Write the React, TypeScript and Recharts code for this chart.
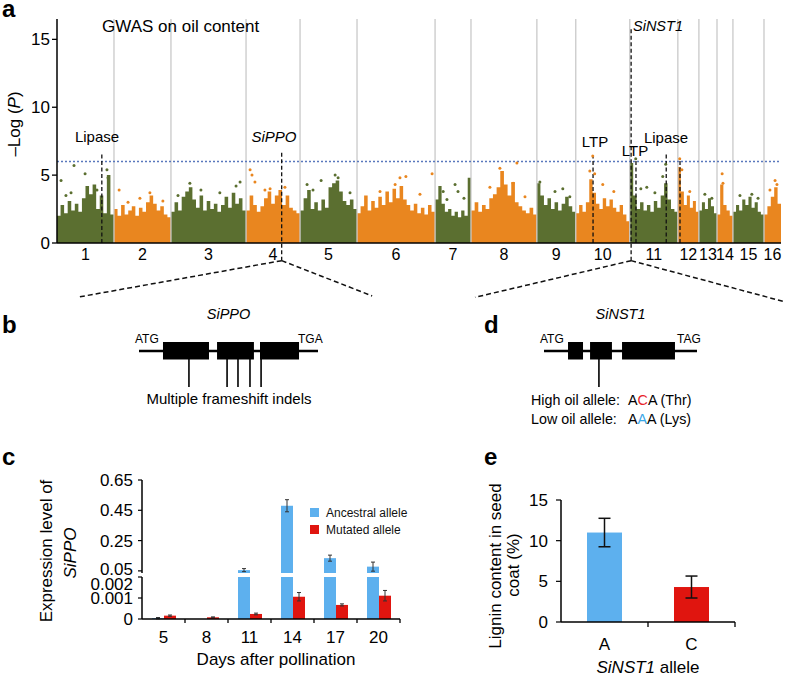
import React from 'react';
import {
  ComposedChart,
  Area,
  Scatter,
  XAxis,
  YAxis,
  ReferenceLine,
  BarChart,
  Bar,
  ErrorBar,
  Legend,
} from 'recharts';

const FONT = '"Liberation Sans", Arial, Helvetica, sans-serif';
const GREEN = '#5b6f30';
const ORANGE = '#e9861f';
const BLUE = '#5db0ee';
const RED = '#e0150f';

// ---- a: GWAS on oil content ----
const chromNames = ['1', '2', '3', '4', '5', '6', '7', '8', '9', '10', '11', '12', '13', '14', '15', '16'];
// chromosome lengths (Mb)
const chromLengths = [21.1, 21.1, 27.8, 20.0, 21.1, 28.9, 13.3, 24.4, 14.4, 20.0, 17.8, 7.8, 6.7, 5.9, 11.5, 6.3];
// upper edge of the dense dot cloud, sampled along each chromosome (-log P)
const chromEnvelope = [
  [2.0, 2.8, 2.2, 3.1, 2.4, 2.9, 2.3, 3.3, 4.2, 3.6, 4.3, 2.5, 3.5, 2.2, 5.0, 2.1],
  [2.5, 2.0, 2.8, 2.1, 2.4, 2.7, 2.0, 2.6, 2.3, 3.0, 3.5, 2.9, 2.4, 2.7, 2.1, 1.9],
  [2.3, 3.0, 2.4, 3.4, 3.8, 4.1, 3.2, 2.6, 3.5, 2.4, 3.1, 2.5, 2.9, 2.3, 2.8, 3.4, 2.6, 3.7, 2.9, 3.3, 2.4],
  [2.4, 3.5, 2.8, 2.3, 2.7, 3.3, 3.8, 2.9, 3.5, 3.9, 2.8, 3.5, 2.6, 2.4, 2.2],
  [2.4, 3.3, 3.9, 2.5, 3.0, 2.4, 3.2, 2.6, 4.1, 4.4, 4.6, 3.8, 3.1, 2.8, 3.2, 2.5],
  [2.2, 2.7, 3.5, 2.4, 3.1, 2.6, 3.4, 2.8, 3.8, 3.0, 4.0, 3.3, 4.2, 3.2, 2.8, 2.4, 2.9, 2.2, 2.6, 2.1, 2.8, 2.3],
  [3.2, 4.2, 2.9, 2.3, 2.5, 2.0, 2.3, 1.9, 2.4, 2.0, 4.8],
  [2.4, 3.0, 2.3, 2.8, 2.5, 3.3, 3.6, 4.1, 5.3, 4.3, 3.5, 4.5, 3.0, 2.7, 2.4, 2.2, 2.6, 2.1],
  [4.4, 3.5, 2.8, 3.3, 2.5, 3.0, 2.4, 2.9, 3.4, 2.7, 2.3],
  [2.2, 2.8, 2.3, 3.0, 4.7, 3.7, 2.9, 2.5, 3.3, 2.7, 3.2, 2.6, 2.3, 2.8, 2.1, 1.6],
  [5.9, 3.5, 2.5, 3.0, 2.4, 2.8, 2.3, 3.1, 2.6, 3.5, 4.4, 3.2, 2.5, 2.3],
  [5.6, 3.8, 2.8, 3.5, 2.6, 3.1, 2.3],
  [2.4, 3.0, 2.5, 3.3, 2.7, 2.2],
  [2.1, 4.3, 2.8, 2.4, 2.0],
  [2.3, 2.8, 2.4, 3.2, 2.8, 3.4, 2.6, 3.0, 2.3, 2.1],
  [2.1, 2.7, 3.4, 4.1, 2.9],
];
// isolated SNPs above the cloud: [position within chromosome (Mb), -log P]
const chromOutliers: [number, number][][] = [
  [[1.5, 4.6], [3.3, 3.5], [5.2, 3.7], [6.3, 5.7], [10.4, 5.1], [14.8, 3.9], [18.5, 5.4], [18.9, 4.8]],
  [[1.9, 3.9], [5.2, 3.0], [9.6, 3.3], [13.3, 3.7], [18.1, 3.1]],
  [[2.6, 3.5], [7.0, 4.4], [11.1, 3.9], [18.1, 3.7], [24.1, 4.2], [25.6, 4.5]],
  [[1.5, 5.4], [2.2, 5.0], [3.3, 4.5], [7.0, 3.9], [8.9, 4.0], [14.4, 4.1]],
  [[2.6, 4.3], [4.8, 3.9], [7.8, 4.6], [13.0, 5.0], [14.1, 4.8], [18.5, 3.7]],
  [[8.5, 3.8], [14.1, 4.3], [15.9, 4.8], [18.1, 4.9], [23.3, 3.6], [27.8, 5.1]],
  [[3.0, 3.8], [4.4, 3.2], [7.4, 4.3], [8.5, 3.8], [10.7, 3.3]],
  [[7.0, 4.1], [10.7, 5.5], [15.6, 4.4], [17.0, 5.9], [20.0, 3.4]],
  [[1.1, 4.5], [6.7, 3.8], [9.6, 4.0], [12.2, 3.4]],
  [[5.2, 5.3], [6.3, 6.4], [7.0, 5.1], [10.0, 4.3], [14.1, 3.8]],
  [[2.2, 6.2], [4.1, 4.0], [6.3, 4.1], [9.3, 3.7], [12.2, 4.9], [13.3, 5.8]],
  [[0.7, 6.2], [1.5, 5.4], [4.4, 3.8]],
  [[2.2, 3.6], [4.8, 3.3]],
  [[1.9, 5.1], [2.2, 4.4]],
  [[2.6, 3.5], [7.0, 3.6], [9.3, 3.3]],
  [[2.2, 3.9], [4.1, 4.6], [4.8, 4.3]],
];
const threshold = 6.0;
// candidate genes: genome position (Mb), top of marker, bottom (below axis for zoomed genes)
const candidates = [
  { name: 'Lipase', pos: 16.6, top: 6.6, low: 0 },
  { name: 'SiPPO', pos: 83.2, top: 6.7, low: -1.3 },
  { name: 'LTP', pos: 198.5, top: 6.4, low: 0 },
  { name: 'SiNST1', pos: 212.6, top: 15.8, low: -1.3 },
  { name: 'LTP', pos: 214.4, top: 6.2, low: 0 },
  { name: 'Lipase', pos: 225.6, top: 6.6, low: 0 },
  { name: '', pos: 230.7, top: 6.2, low: 0 },
];
// zoom-out guides from SiPPO and SiNST1 to panels b and d
const zoomGuides = [
  { from: 83.2, left: 7.4, right: 116.7, leftY: -4.0, rightY: -3.9 },
  { from: 212.6, left: 154.8, right: 268.9, leftY: -4.0, rightY: -4.3 },
];

const chromStarts: number[] = [];
chromLengths.forEach((len, i) => chromStarts.push(i === 0 ? 0 : chromStarts[i - 1] + chromLengths[i - 1]));
const genomeLength = chromStarts[15] + chromLengths[15];
const chromCenters = chromStarts.map((s, i) => s + chromLengths[i] / 2);

const manhattanRows: any[] = [];
chromEnvelope.forEach((vals, c) => {
  const own = c % 2 === 0 ? 'green' : 'orange';
  const other = c % 2 === 0 ? 'orange' : 'green';
  const start = chromStarts[c];
  const len = chromLengths[c];
  const n = vals.length;
  vals.forEach((v, i) => manhattanRows.push({ pos: start + (i * len) / n, [own]: v, [other]: null }));
  manhattanRows.push({ pos: start + len, [own]: vals[n - 1], [other]: null });
});
const greenDots: any[] = [];
const orangeDots: any[] = [];
chromOutliers.forEach((pts, c) => {
  pts.forEach(([off, v]) => (c % 2 === 0 ? greenDots : orangeDots).push({ pos: chromStarts[c] + off, val: v }));
});

// ---- b / d: gene models (relative positions along gene) ----
const ppoExons = [[0.134, 0.391], [0.436, 0.642], [0.676, 0.894]];
const ppoIndels = [0.279, 0.492, 0.553, 0.62, 0.682];
const nstExons = [[0.157, 0.255], [0.301, 0.444], [0.51, 0.856]];
const nstSnp = [0.359];

// ---- c: SiPPO expression ----
const days = ['5', '8', '11', '14', '17', '20'];
const ancestralExpr = [0.00004, 0, 0.055, 0.48, 0.134, 0.078];
const ancestralErr = [0.00003, 0, 0.01, 0.04, 0.02, 0.03];
const mutatedExpr = [0.00016, 0.00008, 0.00024, 0.00106, 0.00067, 0.00111];
const mutatedErr = [0.00003, 0.00002, 0.00004, 0.0002, 0.00005, 0.00025];
const lowerMax = 0.002;
const upperMin = 0.036;

const upperRows = days.map((d, i) => ({
  day: d,
  anc: ancestralExpr[i] >= upperMin ? ancestralExpr[i] : null,
  ancErr: ancestralExpr[i] >= upperMin ? ancestralErr[i] : 0,
  mut: null,
}));
const lowerRows = days.map((d, i) => ({
  day: d,
  anc: ancestralExpr[i],
  ancErr: ancestralExpr[i] <= lowerMax ? ancestralErr[i] : 0,
  mut: mutatedExpr[i],
  mutErr: mutatedErr[i],
}));

// ---- e: lignin ----
const alleles = ['A', 'C'];
const ligninContent = [11.0, 4.3];
const ligninErr = [1.75, 1.35];
const ligninRows = alleles.map((a, i) => ({ allele: a, lignin: ligninContent[i], err: ligninErr[i], fill: i === 0 ? BLUE : RED }));

const BoundaryTick = (props: any) => {
  const { x, y, payload, tickLen, baselineDy, half } = props;
  const h = payload && typeof payload.offset === 'number' && payload.offset > 0 ? payload.offset : half;
  return (
    <g>
      <line x1={x + h} y1={y} x2={x + h} y2={y + tickLen} stroke="#000" strokeWidth={1.3} />
      <text x={x} y={y + baselineDy} textAnchor="middle" fontSize={17} fontFamily={FONT} fill="#000">
        {payload.value}
      </text>
    </g>
  );
};

const YTick = (props: any) => {
  const { x, y, payload, shiftValue, shiftDy } = props;
  const extra = shiftValue !== undefined && payload.value === shiftValue ? shiftDy : 0;
  return (
    <text x={x} y={y + extra} dy="0.36em" textAnchor="end" fontSize={17} fontFamily={FONT} fill="#000">
      {payload.value}
    </text>
  );
};

const Dot = (color: string) => (p: any) => <circle cx={p.cx} cy={p.cy} r={1.5} fill={color} />;

function GeneModel({ x0, x1, y, exons, marks, label, left, right }: any) {
  const w = x1 - x0;
  return (
    <g>
      <line x1={x0} y1={y} x2={x1} y2={y} stroke="#000" strokeWidth={2.5} />
      {exons.map((e: number[], i: number) => (
        <rect key={i} x={x0 + e[0] * w} y={y - 9} width={(e[1] - e[0]) * w} height={17.5} fill="#000" />
      ))}
      {marks.map((m: number, i: number) => (
        <line key={i} x1={x0 + m * w} y1={y + 8} x2={x0 + m * w} y2={y + 36} stroke="#000" strokeWidth={1.6} />
      ))}
      <text x={x0 + 0.5 * w} y={y - 32} textAnchor="middle" fontSize={14.5} fontStyle="italic">{label}</text>
      <text x={x0 - 4} y={y - 8} fontSize={12}>{left}</text>
      <text x={x1 - 20} y={y - 8} fontSize={12}>{right}</text>
    </g>
  );
}

export default function App() {
  const axisLine = { stroke: '#000', strokeWidth: 1.5 };
  return (
    <div style={{ position: 'absolute', left: 0, top: 0, width: 788, height: 677, background: '#fff', overflow: 'hidden', fontFamily: FONT }}>
      {/* a */}
      <div style={{ position: 'absolute', left: 0, top: 0 }}>
        <ComposedChart width={788} height={310} data={manhattanRows} margin={{ top: 19, right: 7, bottom: 37, left: 17 }}>
          <XAxis
            type="number"
            dataKey="pos"
            domain={[0, genomeLength]}
            allowDataOverflow
            ticks={chromCenters}
            interval={0}
            tickFormatter={(v: number, i: number) => chromNames[i]}
            height={30}
            tickSize={0}
            tickMargin={6}
            axisLine={axisLine}
            tick={{ fill: '#000', fontSize: 16, fontFamily: FONT }}
          />
          <YAxis
            domain={[0, 16.5]}
            allowDataOverflow
            ticks={[0, 5, 10, 15]}
            interval={0}
            width={40}
            tickSize={5}
            tickMargin={2}
            axisLine={axisLine}
            tickLine={{ stroke: '#000', strokeWidth: 1.3 }}
            tick={{ fill: '#000', fontSize: 17, fontFamily: FONT }}
          />
          {chromStarts.slice(1).map((b) => (
            <ReferenceLine key={b} x={b} stroke="#c9c9c9" strokeWidth={1.3} />
          ))}
          <Area type="stepAfter" dataKey="green" fill={GREEN} fillOpacity={1} stroke="none" isAnimationActive={false} dot={false} activeDot={false} />
          <Area type="stepAfter" dataKey="orange" fill={ORANGE} fillOpacity={1} stroke="none" isAnimationActive={false} dot={false} activeDot={false} />
          <Scatter data={greenDots} dataKey="val" shape={Dot(GREEN)} isAnimationActive={false} />
          <Scatter data={orangeDots} dataKey="val" shape={Dot(ORANGE)} isAnimationActive={false} />
          <ReferenceLine y={threshold} stroke="#5a78bd" strokeWidth={1.6} strokeDasharray="2 2" />
          {candidates.map((g, i) => (
            <ReferenceLine
              key={'g' + i}
              segment={[{ x: g.pos, y: g.low }, { x: g.pos, y: g.top }]}
              stroke="#111"
              strokeWidth={1.3}
              strokeDasharray="4 2.5"
              ifOverflow="visible"
            />
          ))}
          {zoomGuides.map((z, i) => (
            <React.Fragment key={'z' + i}>
              <ReferenceLine segment={[{ x: z.from, y: -1.3 }, { x: z.left, y: z.leftY }]} stroke="#111" strokeWidth={1.5} strokeDasharray="5 3" ifOverflow="visible" />
              <ReferenceLine segment={[{ x: z.from, y: -1.3 }, { x: z.right, y: z.rightY }]} stroke="#111" strokeWidth={1.5} strokeDasharray="5 3" ifOverflow="visible" />
            </React.Fragment>
          ))}
        </ComposedChart>
      </div>

      {/* c upper part (broken axis) */}
      <div style={{ position: 'absolute', left: 0, top: 470 }}>
        <BarChart width={410} height={114} data={upperRows} margin={{ top: 10, right: 10, bottom: 11, left: 82 }} barGap={0} barSize={12}>
          <XAxis dataKey="day" hide />
          <YAxis
            domain={[upperMin, 0.65]}
            allowDataOverflow
            ticks={[0.05, 0.25, 0.45, 0.65]}
            interval={0}
            width={60}
            tickSize={4}
            tickMargin={5}
            axisLine={axisLine}
            tickLine={{ stroke: '#000', strokeWidth: 1.2 }}
            tick={<YTick shiftValue={0.05} shiftDy={-2} />}
          />
          <Bar dataKey="anc" name="Ancestral allele" fill={BLUE} isAnimationActive={false}>
            <ErrorBar dataKey="ancErr" width={2} stroke="#333" strokeWidth={1} />
          </Bar>
          <Bar dataKey="mut" name="Mutated allele" fill={RED} isAnimationActive={false} />
          <Legend
            layout="vertical"
            align="center"
            verticalAlign="middle"
            wrapperStyle={{ position: 'absolute', left: 310, top: 34, width: 110 }}
            content={(p: any) => (
              <div>
                {(p.payload || []).map((e: any) => (
                  <div key={e.value} style={{ display: 'flex', alignItems: 'center', height: 17, fontSize: 12, fontFamily: FONT, color: '#111' }}>
                    <span style={{ display: 'inline-block', width: 9, height: 9, background: e.color, marginRight: 7 }} />
                    {e.value}
                  </div>
                ))}
              </div>
            )}
          />
        </BarChart>
      </div>

      {/* c lower part */}
      <div style={{ position: 'absolute', left: 0, top: 567 }}>
        <BarChart width={410} height={92} data={lowerRows} margin={{ top: 10, right: 10, bottom: 0, left: 82 }} barGap={0} barSize={12}>
          <XAxis
            dataKey="day"
            height={40}
            tickSize={0}
            tickMargin={0}
            axisLine={axisLine}
            tickLine={false}
            interval={0}
            tick={<BoundaryTick tickLen={4} baselineDy={24} half={21.5} />}
          />
          <YAxis
            domain={[0, lowerMax]}
            allowDataOverflow
            ticks={[0, 0.001, 0.002]}
            interval={0}
            width={60}
            tickSize={4}
            tickMargin={5}
            axisLine={axisLine}
            tickLine={{ stroke: '#000', strokeWidth: 1.2 }}
            tick={<YTick shiftValue={0.002} shiftDy={7} />}
          />
          <Bar dataKey="anc" fill={BLUE} isAnimationActive={false}>
            <ErrorBar dataKey="ancErr" width={2} stroke="#333" strokeWidth={1} />
          </Bar>
          <Bar dataKey="mut" fill={RED} isAnimationActive={false}>
            <ErrorBar dataKey="mutErr" width={2} stroke="#333" strokeWidth={1} />
          </Bar>
        </BarChart>
      </div>

      {/* e */}
      <div style={{ position: 'absolute', left: 420, top: 480 }}>
        <BarChart width={330} height={190} data={ligninRows} margin={{ top: 20, right: 15, bottom: 18, left: 81 }} barSize={35}>
          <XAxis
            dataKey="allele"
            height={30}
            tickSize={0}
            tickMargin={0}
            axisLine={axisLine}
            tickLine={false}
            interval={0}
            tick={<BoundaryTick tickLen={5} baselineDy={28} half={43.5} />}
          />
          <YAxis
            domain={[0, 15]}
            ticks={[0, 5, 10, 15]}
            interval={0}
            width={60}
            tickSize={5}
            tickMargin={8}
            axisLine={axisLine}
            tickLine={{ stroke: '#000', strokeWidth: 1.2 }}
            tick={{ fill: '#000', fontSize: 17, fontFamily: FONT }}
          />
          <Bar dataKey="lignin" isAnimationActive={false} shape={(p: any) => <rect x={p.x} y={p.y} width={p.width} height={p.height} fill={p.payload.fill} />}>
            <ErrorBar dataKey="err" width={6} stroke="#111" strokeWidth={1.5} />
          </Bar>
        </BarChart>
      </div>

      {/* annotations */}
      <svg width={788} height={677} style={{ position: 'absolute', left: 0, top: 0, pointerEvents: 'none' }} fontFamily={FONT} fill="#000">
        <g fontWeight="bold" fontSize={24}>
          <text x={2} y={17}>a</text>
          <text x={2} y={333}>b</text>
          <text x={2} y={465}>c</text>
          <text x={484} y={333}>d</text>
          <text x={484} y={465}>e</text>
        </g>
        <text x={102} y={32} fontSize={17}>GWAS on oil content</text>
        <text transform="translate(20,124) rotate(-90)" textAnchor="middle" fontSize={17}>
          –Log (<tspan fontStyle="italic">P</tspan>)
        </text>
        <g fontSize={15} textAnchor="middle">
          <text x={97} y={142}>Lipase</text>
          <text x={274} y={142} fontStyle="italic">SiPPO</text>
          <text x={595} y={147}>LTP</text>
          <text x={635} y={156}>LTP</text>
          <text x={666} y={143}>Lipase</text>
        </g>
        <text x={633} y={31} fontSize={14.5} fontStyle="italic">SiNST1</text>

        <GeneModel x0={139} x1={318} y={351} exons={ppoExons} marks={ppoIndels} label="SiPPO" left="ATG" right="TGA" />
        <text x={229} y={404} fontSize={15} textAnchor="middle">Multiple frameshift indels</text>

        <GeneModel x0={544} x1={697} y={351} exons={nstExons} marks={nstSnp} label="SiNST1" left="ATG" right="TAG" />
        <text x={531} y={405} fontSize={14.3}>
          High oil allele:
          <tspan x={628}>A</tspan>
          <tspan fill="#e8232a">C</tspan>
          <tspan>A (Thr)</tspan>
        </text>
        <text x={531} y={424} fontSize={14.3}>
          Low oil allele:
          <tspan x={628}>A</tspan>
          <tspan fill="#39a6e6">A</tspan>
          <tspan>A (Lys)</tspan>
        </text>

        <text transform="translate(52,551) rotate(-90)" textAnchor="middle" fontSize={17}>Expression level of</text>
        <text transform="translate(76,553) rotate(-90)" textAnchor="middle" fontSize={17} fontStyle="italic">SiPPO</text>
        <text x={276} y={665} textAnchor="middle" fontSize={17}>Days after pollination</text>

        <text transform="translate(501,566) rotate(-90)" textAnchor="middle" fontSize={17}>Lignin content in seed</text>
        <text transform="translate(519,565) rotate(-90)" textAnchor="middle" fontSize={17}>coat (%)</text>
        <text x={648} y={673} textAnchor="middle" fontSize={17}>
          <tspan fontStyle="italic">SiNST1</tspan> allele
        </text>
      </svg>
    </div>
  );
}
